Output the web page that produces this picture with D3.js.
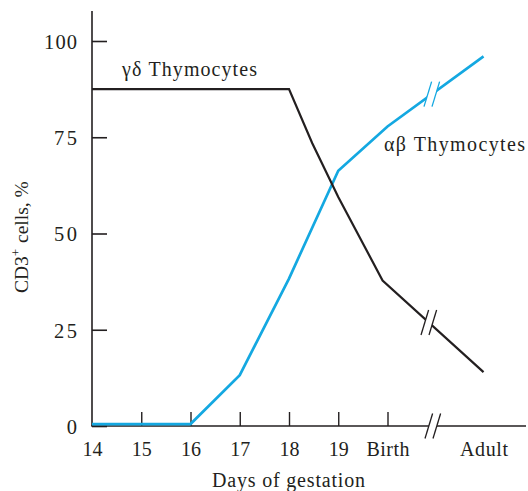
<!DOCTYPE html>
<html>
<head>
<meta charset="utf-8">
<script src="https://cdn.jsdelivr.net/npm/d3@7"></script>
<style>
  html, body { margin: 0; padding: 0; background: #fff; }
  svg text { font-family: "Liberation Serif", "Times New Roman", serif; fill: #231f20; }
</style>
</head>
<body>
<svg id="chart" width="528" height="491"></svg>
<script>
// Day positions: 14–19 are gestation days, Birth sits at 20, Adult at 21.95 (after the axis break)
const tickDays   = [14, 15, 16, 17, 18, 19, 20, 21.95];
const tickLabels = ["14", "15", "16", "17", "18", "19", "Birth", "Adult"];
const yTicks     = [0, 25, 50, 75, 100];
const breakDay   = 20.92;

// CD3+ cells, % — γδ thymocytes
const gdDays   = [14, 18, 18.47, 19, 19.9, 21.95];
const gdValues = [87.5, 87.5, 73.5, 59.5, 37.8, 14];

// CD3+ cells, % — αβ thymocytes
const abDays   = [14, 16, 17, 18, 19, 20, 21.95];
const abValues = [0.5, 0.5, 13.2, 38.3, 66.3, 77.8, 96];

const ink = "#231f20", blue = "#14a8e1";

const svg = d3.select("#chart");
const x = d3.scaleLinear().domain([14, 20]).range([92, 387.5]);
const y = d3.scaleLinear().domain([0, 100]).range([426, 41]);

// stretch a text run to a set width (wider book face)
function fit(sel, w) {
  sel.attr("textLength", w).attr("lengthAdjust", "spacing");
}

// Y axis with inward ticks
const yAxis = svg.append("g").attr("transform", `translate(${x(14)},0)`)
  .call(d3.axisLeft(y).tickValues(yTicks).tickSize(-15).tickPadding(15));
yAxis.select(".domain").remove();
yAxis.selectAll(".tick line").attr("stroke", ink).attr("stroke-width", 1.6);
yAxis.selectAll(".tick text").attr("font-size", 20.5).attr("font-family", "Liberation Serif")
  .attr("fill", ink).attr("dy", "0.36em")
  .each(function (d) { fit(d3.select(this), d === 100 ? 33 : d === 0 ? 12 : 23); });
svg.append("line").attr("x1", x(14)).attr("x2", x(14)).attr("y1", 11).attr("y2", y(0))
  .attr("stroke", ink).attr("stroke-width", 1.6);

// X axis with upward ticks
const xAxis = svg.append("g").attr("transform", `translate(0,${y(0)})`)
  .call(d3.axisBottom(x).tickValues(tickDays).tickFormat((d, i) => tickLabels[i]).tickSize(0).tickPadding(16));
xAxis.select(".domain").remove();
xAxis.selectAll(".tick text").attr("font-size", 20).attr("font-family", "Liberation Serif").attr("fill", ink)
  .each(function (d, i) {
    if (tickLabels[i] === "Birth") fit(d3.select(this), 43);
    if (tickLabels[i] === "Adult") fit(d3.select(this), 48);
  });
xAxis.selectAll(".tick").filter(d => d > 14 && d <= 20).append("line")
  .attr("y1", 0).attr("y2", -14).attr("stroke", ink).attr("stroke-width", 1.4);
svg.append("line").attr("x1", x(14) - 0.8).attr("x2", 526).attr("y1", y(0)).attr("y2", y(0))
  .attr("stroke", ink).attr("stroke-width", 1.6);

// Series lines
const line = d3.line().x(d => x(d[0])).y(d => y(d[1]));
const gd = gdDays.map((d, i) => [d, gdValues[i]]);
const ab = abDays.map((d, i) => [d, abValues[i]]);

svg.append("path").datum(ab).attr("d", line).attr("fill", "none")
  .attr("stroke", blue).attr("stroke-width", 2.7);
svg.append("path").datum(gd).attr("d", line).attr("fill", "none")
  .attr("stroke", ink).attr("stroke-width", 2.2);

// Double-slash break mark centred on (cx, cy)
function breakMark(cx, cy, color, sw) {
  const g = svg.append("g");
  const h = 12.5, dx = 3.8, off = 4;
  g.append("polygon")
    .attr("points", [
      [cx - off - dx * 0.5, cy + h * 0.5], [cx - off + dx * 0.5, cy - h * 0.5],
      [cx + off + dx * 0.5, cy - h * 0.5], [cx + off - dx * 0.5, cy + h * 0.5]
    ].map(p => p.join(",")).join(" "))
    .attr("fill", "#fff");
  [-off, off].forEach(o => {
    g.append("line")
      .attr("x1", cx + o - dx).attr("y1", cy + h)
      .attr("x2", cx + o + dx).attr("y2", cy - h)
      .attr("stroke", color).attr("stroke-width", sw);
  });
}
function valueAt(days, vals, d) {
  for (let i = 1; i < days.length; i++) {
    if (d <= days[i]) {
      const t = (d - days[i - 1]) / (days[i] - days[i - 1]);
      return vals[i - 1] + t * (vals[i] - vals[i - 1]);
    }
  }
  return vals[vals.length - 1];
}
breakMark(x(breakDay), y(0), ink, 1.3);
breakMark(x(breakDay) - 1, y(valueAt(abDays, abValues, breakDay - 0.02)), blue, 1.3);
breakMark(x(breakDay) - 4, y(valueAt(gdDays, gdValues, breakDay - 0.08)), ink, 1.3);

// Series labels
fit(svg.append("text").attr("x", 122).attr("y", 76).attr("font-size", 20).text("γδ Thymocytes"), 135);
fit(svg.append("text").attr("x", 384).attr("y", 151).attr("font-size", 20).text("αβ Thymocytes"), 141);

// Axis titles
fit(svg.append("text").attr("x", 212).attr("y", 487)
  .attr("font-size", 20).text("Days of gestation"), 153);
const yt = svg.append("text").attr("transform", "translate(28,293) rotate(-90)")
  .attr("font-size", 19.5);
yt.append("tspan").text("CD3");
yt.append("tspan").attr("dy", -8).attr("font-size", 13).text("+");
yt.append("tspan").attr("dy", 8).attr("dx", 1).text(" cells, %");
</script>
</body>
</html>
